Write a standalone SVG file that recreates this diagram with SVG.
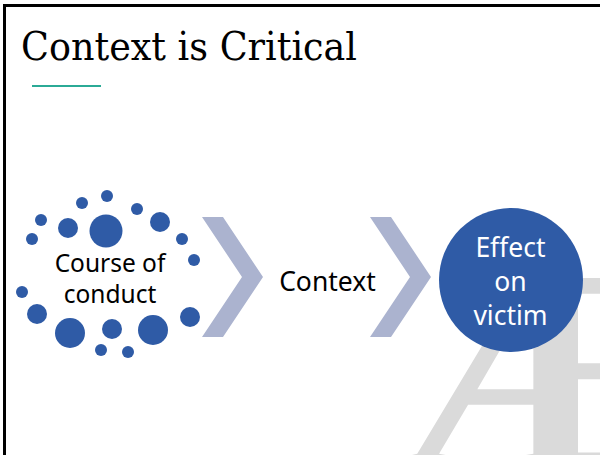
<svg xmlns="http://www.w3.org/2000/svg" width="600" height="455" viewBox="0 0 600 455">
<style>
.dot{fill:#2F5BA6}
.chev{fill:#ABB3CF}
.lbl{font-family:"Noto Sans","Liberation Sans",sans-serif;text-anchor:middle}
</style>
<rect width="600" height="455" fill="#fff"/>
<text x="398" y="468" font-family="Liberation Serif, serif" font-weight="bold" font-size="290" fill="#DADADA">Æ</text>
<path d="M4.5,455 V5.5 H600" fill="none" stroke="#000" stroke-width="3"/>
<text x="21" y="60" font-family="DejaVu Serif, serif" font-size="40" textLength="336" lengthAdjust="spacingAndGlyphs" fill="#000">Context is Critical</text>
<line x1="32" y1="86" x2="101" y2="86" stroke="#2BAA96" stroke-width="2"/>
<g id="connectors">
<polygon class="chev" points="202,217 223,217 263,277 223,337 202,337 242,277"/>
<polygon class="chev" points="370,217 391,217 431,277 391,337 370,337 410,277"/>
</g>
<g id="course">
<circle class="dot" cx="107" cy="196" r="6"/>
<circle class="dot" cx="82" cy="203" r="6"/>
<circle class="dot" cx="137" cy="209" r="6"/>
<circle class="dot" cx="41" cy="220" r="6"/>
<circle class="dot" cx="68" cy="228" r="10"/>
<circle class="dot" cx="106" cy="231" r="16.5"/>
<circle class="dot" cx="160" cy="222" r="10"/>
<circle class="dot" cx="32" cy="239" r="6"/>
<circle class="dot" cx="182" cy="239" r="6"/>
<circle class="dot" cx="194" cy="260" r="6"/>
<circle class="dot" cx="22" cy="292" r="6"/>
<circle class="dot" cx="37" cy="314" r="10"/>
<circle class="dot" cx="70" cy="333" r="15"/>
<circle class="dot" cx="112" cy="329" r="10"/>
<circle class="dot" cx="153" cy="330" r="15"/>
<circle class="dot" cx="190" cy="317" r="10"/>
<circle class="dot" cx="101" cy="350" r="6"/>
<circle class="dot" cx="128" cy="352" r="6"/>
<text class="lbl" x="110" y="272" font-size="24.5" fill="#000">Course of</text>
<text class="lbl" x="110" y="303" font-size="24.5" fill="#000">conduct</text>
</g>
<g id="context">
<text class="lbl" x="327.5" y="291" font-size="26.5" fill="#000">Context</text>
</g>
<g id="effect">
<circle cx="511" cy="280" r="72" fill="#2F5BA6"/>
<text class="lbl" x="510.5" y="257" font-size="26.5" fill="#fff">Effect</text>
<text class="lbl" x="510.5" y="291" font-size="26.5" fill="#fff">on</text>
<text class="lbl" x="510.5" y="325" font-size="26.5" fill="#fff">victim</text>
</g>
</svg>
